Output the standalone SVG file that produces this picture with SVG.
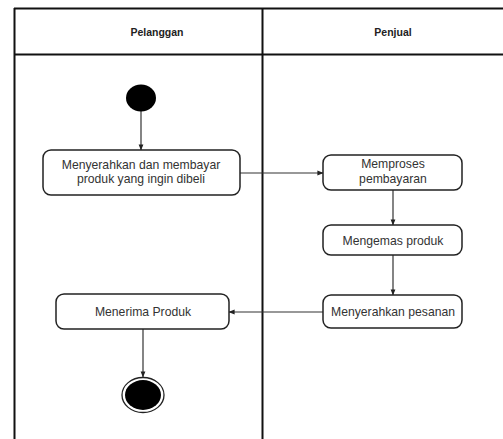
<svg xmlns="http://www.w3.org/2000/svg" width="503" height="439" viewBox="0 0 503 439">
<style>
.lane{stroke:#111;stroke-width:2;fill:none}
.hdr{font-family:"Liberation Sans",Arial,sans-serif;font-size:10.5px;font-weight:bold;fill:#222;text-anchor:middle}
.act rect{fill:#fff;stroke:#222;stroke-width:1.5}
.act text{font-family:"Liberation Sans",Arial,sans-serif;font-size:12.2px;fill:#333;text-anchor:middle}
.conn{stroke:#333;stroke-width:1.2;fill:none;marker-end:url(#arr)}
</style>
<defs>
<marker id="arr" viewBox="0 0 8 8" refX="7.5" refY="4" markerWidth="6" markerHeight="6" markerUnits="userSpaceOnUse" orient="auto">
<path d="M0,0.8 L8,4 L0,7.2 z" fill="#222"/>
</marker>
</defs>
<rect width="503" height="439" fill="#fff"/>
<g id="swimlanes">
<line class="lane" x1="14" y1="8.5" x2="503" y2="8.5"/>
<line class="lane" x1="14" y1="54.5" x2="503" y2="54.5"/>
<line class="lane" x1="14.5" y1="8" x2="14.5" y2="439"/>
<line class="lane" x1="262.5" y1="8" x2="262.5" y2="439" stroke="#333"/>
<text class="hdr" x="157" y="35.5">Pelanggan</text>
<text class="hdr" x="393" y="35.5">Penjual</text>
</g>
<g id="connectors">
<line class="conn" x1="141" y1="111" x2="141" y2="150"/>
<line class="conn" x1="240" y1="173" x2="323" y2="173"/>
<line class="conn" x1="393" y1="190" x2="393" y2="225"/>
<line class="conn" x1="393" y1="255" x2="393" y2="295"/>
<line class="conn" x1="323" y1="312" x2="229" y2="312"/>
<line class="conn" x1="143" y1="329" x2="143" y2="377"/>
</g>
<g id="start">
<ellipse cx="141" cy="98" rx="15" ry="13.5" fill="#000"/>
</g>
<g id="a1" class="act">
<rect x="43" y="150" width="197" height="45" rx="8"/>
<text x="141" y="169">Menyerahkan dan membayar</text>
<text x="141" y="183">produk yang ingin dibeli</text>
</g>
<g id="a2" class="act">
<rect x="323" y="155" width="139" height="35" rx="8"/>
<text x="393" y="168">Memproses</text>
<text x="393" y="183">pembayaran</text>
</g>
<g id="a3" class="act">
<rect x="323" y="225" width="139" height="30" rx="8"/>
<text x="393" y="244.5">Mengemas produk</text>
</g>
<g id="a4" class="act">
<rect x="323" y="295" width="139" height="33" rx="8"/>
<text x="393" y="315.5">Menyerahkan pesanan</text>
</g>
<g id="a5" class="act">
<rect x="56" y="294" width="173" height="35" rx="8"/>
<text x="143" y="315.5">Menerima Produk</text>
</g>
<g id="end">
<ellipse cx="143" cy="395" rx="21" ry="17.5" fill="#fff" stroke="#222" stroke-width="1.3"/>
<ellipse cx="143" cy="395" rx="18" ry="15" fill="#000"/>
</g>
</svg>
